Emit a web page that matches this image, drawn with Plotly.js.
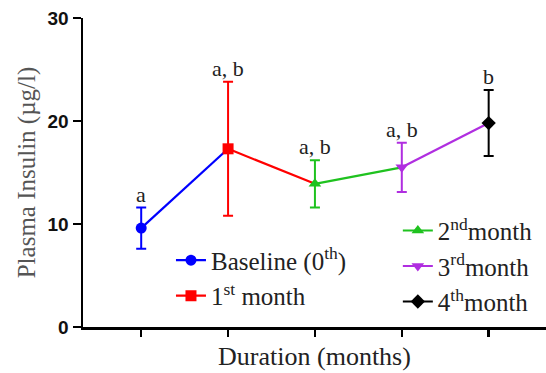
<!DOCTYPE html>
<html><head><meta charset="utf-8">
<script src="https://cdn.plot.ly/plotly-3.0.1.min.js"></script>
<style>html,body{margin:0;padding:0;background:#fff}#chart{width:546px;height:373px}</style>
</head><body><div id="chart"></div>
<script>
const categories = ["Baseline (0<sup>th</sup>)", "1<sup>st</sup> month", "2<sup>nd</sup>month", "3<sup>rd</sup>month", "4<sup>th</sup>month"];
const insulinMean = [9.6, 17.3, 13.9, 15.5, 19.8];
const insulinErr = [2.0, 6.5, 2.3, 2.4, 3.2];
const sigLabels = ["a", "a, b", "a, b", "a, b", "b"];
const colors = ["#0000ff", "#ff0000", "#1fc21f", "#b02ee0", "#000000"];
const symbols = ["circle", "square", "triangle-up", "triangle-down", "diamond"];
const legendOf = ["legend", "legend", "legend2", "legend2", "legend2"];
const SERIF = "Liberation Serif";

const traces = [];
for (let i = 0; i < insulinMean.length - 1; i++) {
  traces.push({x: [i, i + 1], y: [insulinMean[i], insulinMean[i + 1]], mode: "lines",
    line: {color: colors[i], width: 2.2}, showlegend: false, hoverinfo: "skip"});
}
for (let i = 0; i < insulinMean.length; i++) {
  traces.push({x: [i], y: [insulinMean[i]], name: categories[i], mode: "lines+markers",
    legend: legendOf[i],
    line: {color: colors[i], width: 2.2},
    marker: {color: colors[i], symbol: symbols[i], size: 11},
    error_y: {type: "data", array: [insulinErr[i]], color: colors[i], thickness: 2, width: 5, visible: true}});
}
const annotations = sigLabels.map((t, i) => ({x: i, y: insulinMean[i] + insulinErr[i], xref: "x", yref: "y",
  text: t, showarrow: false, yanchor: "bottom", yshift: -1,
  font: {family: SERIF, size: 22, color: "#222"}}));

const layout = {
  width: 546, height: 373,
  margin: {l: 83, r: 0, t: 18, b: 46},
  paper_bgcolor: "#fff", plot_bgcolor: "#fff",
  showlegend: true,
  xaxis: {range: [-0.67, 4.66], tickvals: [0, 1, 2, 3, 4], showticklabels: false,
    ticks: "outside", ticklen: 7, tickwidth: 2.5, tickcolor: "#000",
    showline: true, linecolor: "#000", linewidth: 2.5, showgrid: false, zeroline: false,
    title: {text: "Duration (months)", standoff: 12, font: {family: SERIF, size: 26, color: "#222"}}},
  yaxis: {range: [0, 30], tickvals: [0, 10, 20, 30],
    ticks: "outside", ticklen: 8, tickwidth: 2.5, tickcolor: "#000",
    showline: true, linecolor: "#000", linewidth: 2.5, showgrid: false, zeroline: false,
    tickfont: {family: "Liberation Sans", size: 19, color: "#111", weight: "bold"},
    title: {text: "Plasma Insulin (µg/l)", standoff: 5, font: {family: SERIF, size: 25, color: "#555"}}},
  legend: {x: 0.19, y: 0.29, xanchor: "left", yanchor: "top", bgcolor: "rgba(0,0,0,0)",
    font: {family: SERIF, size: 25, color: "#222"}, tracegroupgap: 0},
  legend2: {x: 0.68, y: 0.386, xanchor: "left", yanchor: "top", bgcolor: "rgba(0,0,0,0)",
    font: {family: SERIF, size: 25, color: "#222"}, tracegroupgap: 0},
  annotations: annotations
};
Plotly.newPlot("chart", traces, layout, {staticPlot: true});
</script></body></html>
